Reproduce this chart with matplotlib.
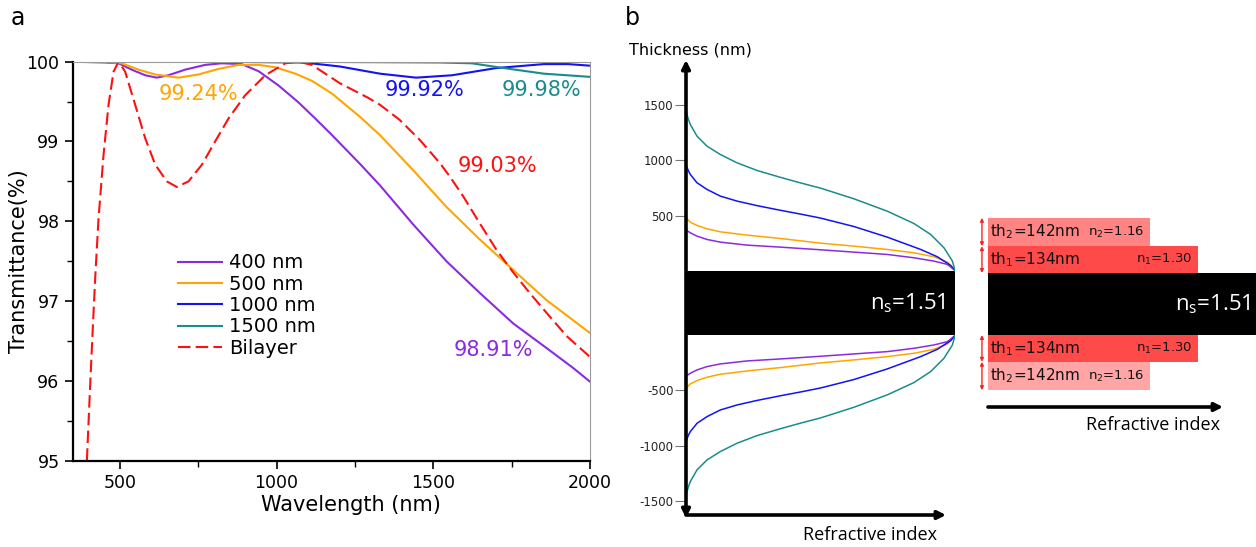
import numpy as np
import matplotlib
matplotlib.use("Agg")
import matplotlib.pyplot as plt
from matplotlib.ticker import MultipleLocator

plt.rcParams['font.family'] = ['DejaVu Sans']
plt.rcParams['mathtext.default'] = 'regular'

# ---- transmittance spectra (panel a) ----
wl_400 = [350, 453, 496, 538, 581, 618, 655, 708, 772, 825, 889, 943, 1007, 1070, 1123, 1177, 1266, 1330,
          1436, 1542, 1649, 1755, 1862, 1947, 2000]
t_400 = [100.0, 99.99, 99.98, 99.90, 99.83, 99.80, 99.83, 99.90, 99.96, 99.98, 99.97, 99.88, 99.70, 99.49,
         99.29, 99.08, 98.72, 98.45, 97.96, 97.50, 97.10, 96.72, 96.41, 96.16, 95.99]

wl_500 = [350, 453, 506, 560, 613, 687, 751, 815, 879, 943, 996, 1060, 1113, 1177, 1266, 1330, 1436, 1542,
          1649, 1755, 1862, 2000]
t_500 = [100.0, 100.0, 99.98, 99.90, 99.84, 99.80, 99.84, 99.91, 99.96, 99.96, 99.93, 99.85, 99.76, 99.60,
         99.31, 99.08, 98.64, 98.18, 97.77, 97.39, 97.01, 96.60]

wl_1000 = [350, 800, 1087, 1202, 1330, 1445, 1560, 1700, 1853, 1930, 2000]
t_1000 = [100.0, 100.0, 99.99, 99.94, 99.85, 99.80, 99.83, 99.92, 99.97, 99.97, 99.95]

wl_1500 = [350, 1000, 1521, 1623, 1725, 1853, 2000]
t_1500 = [100.0, 100.0, 99.99, 99.98, 99.92, 99.85, 99.81]

wl_bi = [395, 404, 413, 422, 432, 448, 464, 480, 496, 517, 549, 581, 613, 650, 682, 719, 762, 804, 847, 900,
         964, 1028, 1070, 1113, 1202, 1291, 1330, 1393, 1457, 1521, 1553, 1596, 1649, 1702, 1755, 1808, 1862,
         1926, 2000]
t_bi = [95.0, 95.82, 96.6, 97.33, 98.03, 98.83, 99.46, 99.875, 100.0, 99.875, 99.46, 99.04, 98.71, 98.50,
        98.43, 98.50, 98.71, 99.00, 99.29, 99.58, 99.83, 99.98, 100.0, 99.96, 99.73, 99.55, 99.46, 99.27,
        99.02, 98.73, 98.56, 98.31, 97.97, 97.64, 97.36, 97.10, 96.85, 96.56, 96.30]

# average transmittance labels: (text, wavelength, T)
avg_labels = [("99.24%", 752, 99.60), ("99.92%", 1473, 99.645), ("99.98%", 1846, 99.645),
              ("99.03%", 1704, 98.69), ("98.91%", 1693, 96.39)]

c_400, c_500, c_1000, c_1500, c_bi = '#8a2be2', '#ffa500', '#1212f5', '#1a8c8c', '#ff1010'

# ---- graded index profiles (panel b): refractive index vs thickness ----
n_1500 = [1.000, 1.0044, 1.0082, 1.0209, 1.0399, 1.0651, 1.0968, 1.1348, 1.1791, 1.2170, 1.2550, 1.3182,
          1.3816, 1.4321, 1.4639, 1.4891, 1.5051, 1.510]
th_1500 = [1441, 1371, 1321, 1216, 1126, 1051, 976, 907, 845, 795, 748, 652, 540, 429, 330, 210, 90, 5]

n_1000 = [1.000, 1.0044, 1.0082, 1.0209, 1.0399, 1.0651, 1.0968, 1.1348, 1.1791, 1.2170, 1.2550, 1.3182,
          1.3816, 1.4449, 1.4766, 1.5018, 1.510]
th_1000 = [961, 905, 871, 796, 736, 676, 631, 590, 548, 514, 478, 402, 306, 195, 129, 51, 5]

n_500 = [1.000, 1.0044, 1.0082, 1.0209, 1.0399, 1.0651, 1.1158, 1.1791, 1.2550, 1.3182, 1.3816, 1.4321,
         1.4701, 1.4956, 1.510]
th_500 = [490, 459, 441, 411, 381, 354, 324, 294, 252, 225, 195, 165, 129, 81, 5]

n_400 = [1.000, 1.0044, 1.0082, 1.0209, 1.0399, 1.0651, 1.1158, 1.1791, 1.2550, 1.3182, 1.3816, 1.4321,
         1.4701, 1.4956, 1.510]
th_400 = [375, 357, 345, 315, 285, 261, 234, 216, 192, 171, 150, 120, 90, 60, 5]

n_sub = 1.51
n_air = 1.00
thick_ticks = [1500, 1000, 500]

# homogeneous bilayer
n1, th1 = 1.30, 134
n2, th2 = 1.16, 142

W, H = 1256, 547
fig = plt.figure(figsize=(W / 100, H / 100), dpi=100)


def frame(l, t, r, b):
    return [l / W, 1 - b / H, (r - l) / W, (b - t) / H]


# ================= panel a =================
ax = fig.add_axes(frame(72.8, 61.7, 590, 460.7))
ax.plot(wl_400, t_400, color=c_400, lw=1.5, label='400 nm')
ax.plot(wl_500, t_500, color=c_500, lw=1.5, label='500 nm')
ax.plot(wl_1000, t_1000, color=c_1000, lw=1.5, label='1000 nm')
ax.plot(wl_1500, t_1500, color=c_1500, lw=1.5, label='1500 nm')
ax.plot(wl_bi, t_bi, color=c_bi, lw=1.5, dashes=(6, 2.5), label='Bilayer')

for (txt, x, y), c in zip(avg_labels, [c_500, c_1000, c_1500, c_bi, c_400]):
    ax.text(x, y, txt, color=c, fontsize=15, ha='center', va='center')

ax.set_xlim(350, 2000)
ax.set_ylim(95, 100)
ax.xaxis.set_major_locator(MultipleLocator(500))
ax.xaxis.set_minor_locator(MultipleLocator(250))
ax.yaxis.set_major_locator(MultipleLocator(1))
ax.yaxis.set_minor_locator(MultipleLocator(0.5))
ax.tick_params(which='major', length=6, width=1.2, labelsize=12.5, color='k')
ax.tick_params(which='minor', length=4, width=1.0)
for s in ['left', 'bottom']:
    ax.spines[s].set_linewidth(1.6)
for s in ['top', 'right']:
    ax.spines[s].set_linewidth(0.8)
    ax.spines[s].set_color('#9a9a9a')
ax.set_xlabel('Wavelength (nm)', fontsize=15)
ax.set_ylabel('Transmittance(%)', fontsize=15)
ax.xaxis.set_label_coords(0.538, -0.085)
ax.yaxis.set_label_coords(-0.085, 0.5)

ax.legend(loc='center left', bbox_to_anchor=(0.203, 0.389), frameon=False, fontsize=14,
          borderpad=0, borderaxespad=0, labelspacing=0.12, handlelength=2.27, handletextpad=0.36)

fig.text(18 / W, 1 - 18 / H, 'a', fontsize=17, ha='center', va='center')
fig.text(632 / W, 1 - 18 / H, 'b', fontsize=17, ha='center', va='center')

# ================= panel b, graded profile =================
gap = 288  # half height of the substrate block, in nm units
bx = fig.add_axes(frame(686, 60, 955, 518))
bx.set_xlim(n_air, n_sub)
bx.set_ylim(-1938, 2191)
for s in bx.spines.values():
    s.set_visible(False)
bx.set_xticks([])
yt = [t + gap for t in thick_ticks] + [-t - gap for t in thick_ticks]
bx.set_yticks(yt, [str(t) for t in thick_ticks] + ['-' + str(t) for t in thick_ticks])
bx.tick_params(axis='y', length=8, width=0.8, color='#777777', labelsize=8.5, labelcolor='#222222', pad=1)

bx.barh(-gap, n_sub - n_air, height=2 * gap, left=n_air, align='edge', color='black', zorder=1)
for n, th, c in [(n_400, th_400, c_400), (n_500, th_500, c_500),
                 (n_1000, th_1000, c_1000), (n_1500, th_1500, c_1500)]:
    th = np.array(th)
    bx.plot(n, th + gap, color=c, lw=1.1, zorder=3)
    bx.plot(n, -th - gap, color=c, lw=1.1, zorder=3)

bx.text(1.493, 0, 'n$_s$=1.51', color='white', fontsize=16, ha='right', va='center',
        family='Open Sans')

arr = dict(color='black', lw=2.6, mutation_scale=12, shrinkA=0, shrinkB=0)
bx.annotate('', xy=(n_air, 2191), xytext=(n_air, -1938), arrowprops=dict(arrowstyle='<|-|>', **arr),
            annotation_clip=False)
bx.annotate('', xy=(1.493, -1911), xytext=(n_air, -1911), arrowprops=dict(arrowstyle='-|>', **arr),
            annotation_clip=False)

fig.text(690 / W, 1 - 50 / H, 'Thickness (nm)', fontsize=11.5, ha='center', va='center')
fig.text(870 / W, 1 - 535 / H, 'Refractive index', fontsize=13, ha='center', va='center',
         family='Open Sans')

# ================= panel b, bilayer =================
g2 = 155
n_base = 0.6875
rx = fig.add_axes(frame(960, 200, 1256, 440))
rx.set_xlim(0.606, 1.469)
rx.set_ylim(-680, 520)
rx.axis('off')

layers = [(n1, th1, g2, '#ff4a4a', 'th$_1$=134nm', 'n$_1$=1.30'),
          (n2, th2, g2 + th1, '#ff8585', 'th$_2$=142nm', 'n$_2$=1.16'),
          (n1, th1, -g2 - th1, '#ff4a4a', 'th$_1$=134nm', 'n$_1$=1.30'),
          (n2, th2, -g2 - th1 - th2, '#ffa5a5', 'th$_2$=142nm', 'n$_2$=1.16')]
rx.barh(-g2, n_sub - n_base, height=2 * g2, left=n_base, align='edge', color='black')
for n, th, y0, c, lab_t, lab_n in layers:
    rx.barh(y0, n - n_base, height=th, left=n_base, align='edge', color=c)
    rx.text(n_base + 0.005, y0 + th / 2, lab_t, fontsize=11, ha='left', va='center', color='#111111')
    rx.text(n - 0.015, y0 + th / 2, lab_n, fontsize=9.5, ha='right', va='center', color='#111111')
    rx.annotate('', xy=(0.67, y0 + th), xytext=(0.67, y0),
                arrowprops=dict(arrowstyle='<|-|>', color='#ff2020', lw=1.0, mutation_scale=5,
                                shrinkA=0, shrinkB=0))

rx.text(1.455, 0, 'n$_s$=1.51', color='white', fontsize=16, ha='right', va='center', family='Open Sans')
rx.annotate('', xy=(1.373, -515), xytext=(n_base, -515), arrowprops=dict(arrowstyle='-|>', **arr))
rx.text(1.17, -605, 'Refractive index', fontsize=13, ha='center', va='center', family='Open Sans')

fig.savefig('out.png', dpi=100)
